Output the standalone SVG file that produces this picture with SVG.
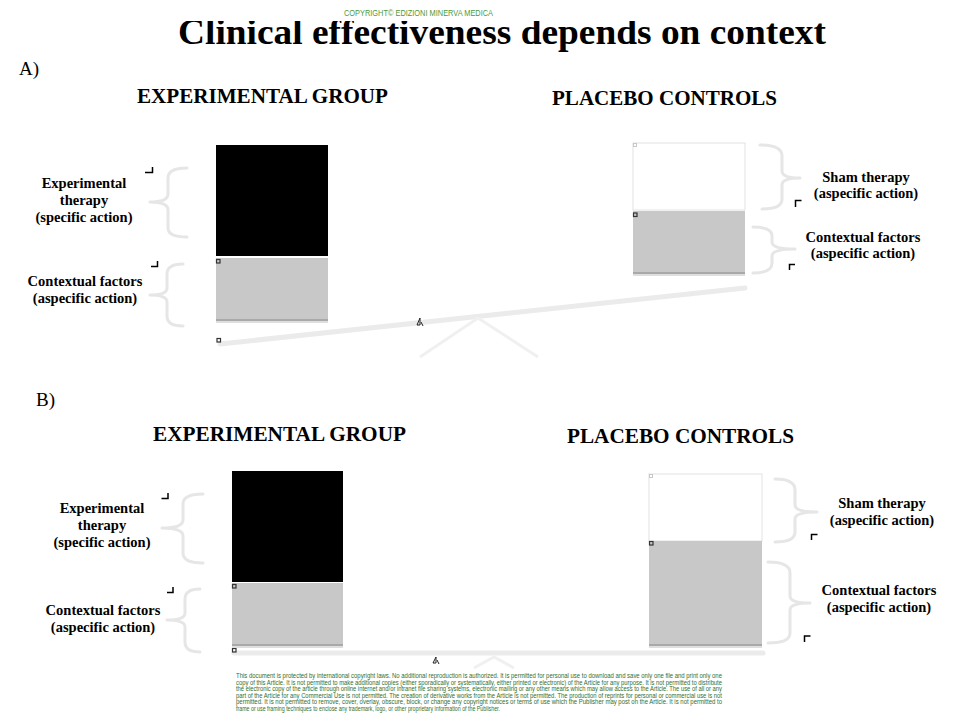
<svg xmlns="http://www.w3.org/2000/svg" width="976" height="725" viewBox="0 0 976 725">
<style>
.title{font-family:"Liberation Serif",serif;font-weight:bold;font-size:36px;fill:#000}
.hdr{font-family:"Liberation Serif",serif;font-weight:bold;font-size:20.5px;fill:#000}
.sec{font-family:"Liberation Serif",serif;font-size:19px;fill:#000}
.lbl{font-family:"Liberation Serif",serif;font-weight:bold;font-size:14.5px;fill:#000;text-anchor:middle}
.copy{font-family:"Liberation Sans",sans-serif;font-size:9px;fill:#4c9a3c}
.legal{font-family:"Liberation Sans",sans-serif;font-size:6.6px;fill:#2f6f2f}
.brace{fill:none;stroke:#e6e6e6;stroke-width:3;stroke-linecap:round;stroke-linejoin:round}
.mark{fill:none;stroke:#000;stroke-width:1.5}
.sq{fill:none;stroke:#333;stroke-width:1.2}
.sql{fill:none;stroke:#c8c8c8;stroke-width:1}
.beam{fill:none;stroke:#ebebeb;stroke-width:5;stroke-linecap:round}
.fulc{fill:none;stroke:#f0f0f0;stroke-width:3}
.blk{fill:#000}
.gry{fill:#c8c8c8}
.wht{fill:#fff;stroke:#e2e2e2;stroke-width:1}
.shadow{fill:#a9a9a9}
.icon{fill:none;stroke:#222;stroke-width:1}
</style>

<!-- Title -->
<g id="title">
<text class="title" x="178" y="44" textLength="648" lengthAdjust="spacingAndGlyphs">Clinical effectiveness depends on context</text>
<rect x="170" y="0" width="665" height="21" fill="#fff"/>
<text class="copy" x="344" y="16" textLength="149" lengthAdjust="spacingAndGlyphs">COPYRIGHT© EDIZIONI MINERVA MEDICA</text>
</g>

<!-- ===== Panel A ===== -->
<g id="panelA-label"><text class="sec" x="19" y="75">A)</text></g>
<g id="A-exp-header"><text class="hdr" x="137" y="103" textLength="251" lengthAdjust="spacingAndGlyphs">EXPERIMENTAL GROUP</text></g>
<g id="A-plc-header"><text class="hdr" x="552" y="105" textLength="225" lengthAdjust="spacingAndGlyphs">PLACEBO CONTROLS</text></g>

<g id="A-seesaw">
<line class="beam" x1="220" y1="344" x2="745" y2="288"/>
<polyline class="fulc" points="420,357 478,318 538,357"/>
<path class="icon" d="M420,318 L420,325 L417,325 Z M421,322 L423,326"/>
<rect class="sq" x="217" y="338.5" width="3.5" height="3.5"/>
</g>

<g id="A-exp-bar">
<rect class="blk" x="216" y="145" width="112" height="111"/>
<rect class="gry" x="216" y="258" width="112" height="62"/>
<rect class="shadow" x="216" y="319" width="112" height="2"/>
<rect x="216" y="321" width="112" height="2" fill="#dedede"/>
<rect class="sq" x="216.5" y="259.5" width="3.5" height="3.5"/>
</g>

<g id="A-plc-bar">
<rect class="wht" x="633" y="143" width="112" height="67"/>
<rect class="gry" x="633" y="211" width="112" height="62"/>
<rect class="shadow" x="633" y="272" width="112" height="2"/>
<rect x="633" y="274" width="112" height="2" fill="#dedede"/>
<rect class="sql" x="633.5" y="143.5" width="3" height="3"/>
<rect class="sq" x="633.5" y="213" width="3.5" height="3.5"/>
</g>

<g id="A-exp-therapy">
<path class="brace" d="M187,168 Q168,168 168,178 L168,194 Q168,202 150,202 Q168,202 168,210 L168,228 Q168,237 187,237"/>
<path class="mark" d="M145,172.5 L152.5,172.5 L152.5,167"/>
<text class="lbl" x="84" y="188">Experimental</text>
<text class="lbl" x="84" y="205">therapy</text>
<text class="lbl" x="84" y="222">(specific action)</text>
</g>

<g id="A-exp-context">
<path class="brace" d="M183,264 Q167,264 167,274 L167,288 Q167,295 150,295 Q167,295 167,302 L167,316 Q167,326 183,326"/>
<path class="mark" d="M151,266.5 L157.5,266.5 L157.5,261"/>
<text class="lbl" x="85" y="286">Contextual factors</text>
<text class="lbl" x="85" y="303">(aspecific action)</text>
</g>

<g id="A-sham">
<path class="brace" d="M760,145 Q782,145 782,156 L782,171 Q782,178 800,178 Q782,178 782,185 L782,199 Q782,209 762,209"/>
<path class="mark" d="M795.5,207 L795.5,200.5 L801.5,200.5"/>
<text class="lbl" x="866" y="182">Sham therapy</text>
<text class="lbl" x="866" y="198">(aspecific action)</text>
</g>

<g id="A-plc-context">
<path class="brace" d="M753,227 Q772,227 772,236 L772,242 Q772,249 795,249 Q772,249 772,256 L772,263 Q772,273 753,273"/>
<path class="mark" d="M789.5,270 L789.5,264.5 L795,264.5"/>
<text class="lbl" x="863" y="242">Contextual factors</text>
<text class="lbl" x="863" y="258">(aspecific action)</text>
</g>

<!-- ===== Panel B ===== -->
<g id="panelB-label"><text class="sec" x="36" y="406">B)</text></g>
<g id="B-exp-header"><text class="hdr" x="153" y="441" textLength="253" lengthAdjust="spacingAndGlyphs">EXPERIMENTAL GROUP</text></g>
<g id="B-plc-header"><text class="hdr" x="567" y="443" textLength="227" lengthAdjust="spacingAndGlyphs">PLACEBO CONTROLS</text></g>

<g id="B-seesaw">
<line class="beam" x1="234" y1="653" x2="763" y2="653"/>
<polyline class="fulc" points="474,668 494,657 514,668"/>
<path class="icon" d="M436,657 L436,663 L433,663 Z M437,660 L439,664"/>
<rect class="sq" x="232.5" y="648.5" width="3.5" height="3.5"/>
</g>

<g id="B-exp-bar">
<rect class="blk" x="232" y="471" width="111" height="111"/>
<rect class="gry" x="232" y="583" width="111" height="62"/>
<rect class="shadow" x="232" y="644" width="111" height="2"/>
<rect x="232" y="646" width="111" height="2" fill="#dedede"/>
<rect class="sq" x="232.5" y="584.5" width="3.5" height="3.5"/>
</g>

<g id="B-plc-bar">
<rect class="wht" x="649" y="474" width="113" height="67"/>
<rect class="gry" x="649" y="541" width="113" height="104"/>
<rect class="shadow" x="649" y="644" width="113" height="2"/>
<rect x="649" y="646" width="113" height="2" fill="#dedede"/>
<rect class="sql" x="649.5" y="474.5" width="3" height="3"/>
<rect class="sq" x="649.5" y="541.5" width="3.5" height="3.5"/>
</g>

<g id="B-exp-therapy">
<path class="brace" d="M203,494 Q183,494 183,504 L183,520 Q183,528 162,528 Q183,528 183,536 L183,553 Q183,563 203,563"/>
<path class="mark" d="M161.5,498.5 L168,498.5 L168,493"/>
<text class="lbl" x="102" y="513">Experimental</text>
<text class="lbl" x="102" y="530">therapy</text>
<text class="lbl" x="102" y="547">(specific action)</text>
</g>

<g id="B-exp-context">
<path class="brace" d="M200,589 Q185,589 185,599 L185,613 Q185,620 167,620 Q185,620 185,627 L185,642 Q185,652 200,652"/>
<path class="mark" d="M167,592.5 L173,592.5 L173,587"/>
<text class="lbl" x="103" y="615">Contextual factors</text>
<text class="lbl" x="103" y="632">(aspecific action)</text>
</g>

<g id="B-sham">
<path class="brace" d="M775,479 Q795,479 795,490 L795,505 Q795,512 817,512 Q795,512 795,519 L795,532 Q795,542 775,542"/>
<path class="mark" d="M811.5,540 L811.5,534.5 L817.5,534.5"/>
<text class="lbl" x="882" y="508">Sham therapy</text>
<text class="lbl" x="882" y="525">(aspecific action)</text>
</g>

<g id="B-plc-context">
<path class="brace" d="M768,562 Q790,562 790,573 L790,596 Q790,603 810,603 Q790,603 790,610 L790,633 Q790,643 768,643"/>
<path class="mark" d="M804.5,642 L804.5,636 L810.5,636"/>
<text class="lbl" x="879" y="595">Contextual factors</text>
<text class="lbl" x="879" y="612">(aspecific action)</text>
</g>

<!-- Legal notice -->
<g id="legal">
<text class="legal" x="236" y="678" textLength="486" lengthAdjust="spacingAndGlyphs">This document is protected by international copyright laws. No additional reproduction is authorized. It is permitted for personal use to download and save only one file and print only one</text>
<text class="legal" x="236" y="684.5" textLength="486" lengthAdjust="spacingAndGlyphs">copy of this Article. It is not permitted to make additional copies (either sporadically or systematically, either printed or electronic) of the Article for any purpose. It is not permitted to distribute</text>
<text class="legal" x="236" y="691" textLength="486" lengthAdjust="spacingAndGlyphs">the electronic copy of the article through online internet and/or intranet file sharing systems, electronic mailing or any other means which may allow access to the Article. The use of all or any</text>
<text class="legal" x="236" y="697.5" textLength="486" lengthAdjust="spacingAndGlyphs">part of the Article for any Commercial Use is not permitted. The creation of derivative works from the Article is not permitted. The production of reprints for personal or commercial use is not</text>
<text class="legal" x="236" y="704" textLength="486" lengthAdjust="spacingAndGlyphs">permitted. It is not permitted to remove, cover, overlay, obscure, block, or change any copyright notices or terms of use which the Publisher may post on the Article. It is not permitted to</text>
<text class="legal" x="236" y="710.5" textLength="264" lengthAdjust="spacingAndGlyphs">frame or use framing techniques to enclose any trademark, logo, or other proprietary information of the Publisher.</text>
</g>
</svg>
